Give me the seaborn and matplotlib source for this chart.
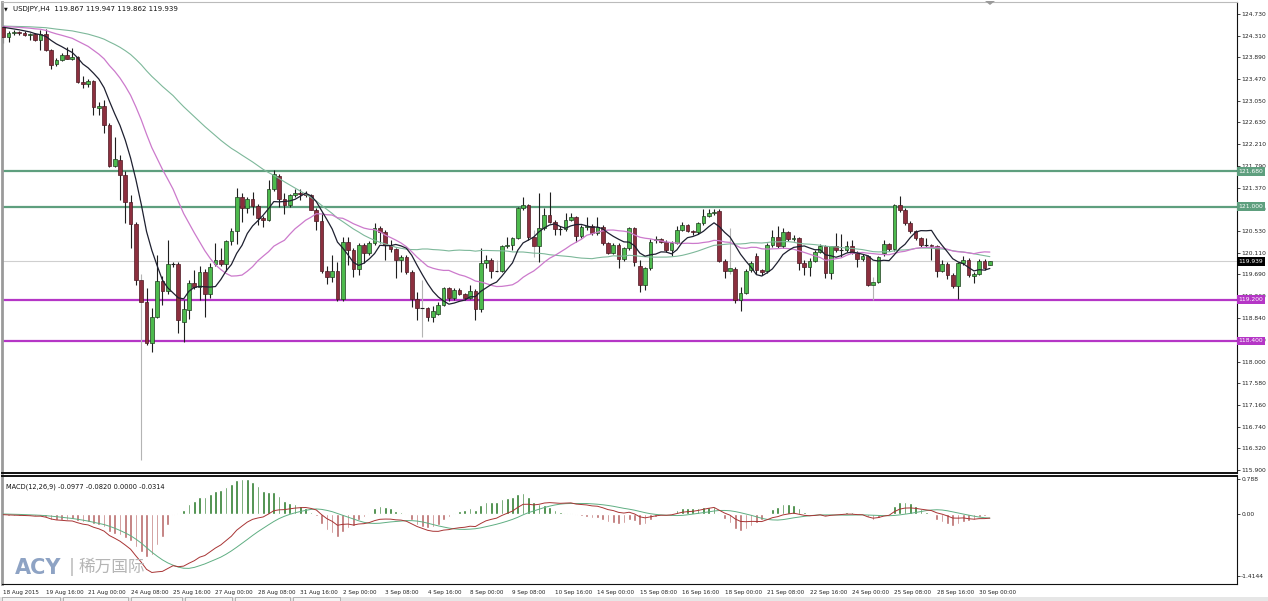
import numpy as np
import pandas as pd
import seaborn as sns
import matplotlib.pyplot as plt
import matplotlib.transforms as mtransforms
from matplotlib.patches import Rectangle, Polygon

# USDJPY H4 candles, 18 Aug 2015 08:00 -> 30 Sep 2015
opens = [124.48, 124.28, 124.37, 124.38, 124.36, 124.33, 124.34, 124.23, 124.34, 124.03,
         123.76, 123.84, 123.94, 123.86, 123.89, 123.42, 123.37, 123.43, 122.90, 122.94,
         122.58, 121.79, 121.90, 121.61, 121.08, 120.66, 119.58, 119.15, 118.35, 118.87,
         119.56, 119.37, 119.88, 119.88, 118.76, 119.00, 119.53, 119.44, 119.73, 119.30,
         119.89, 119.96, 119.88, 120.34, 120.53, 121.18, 120.97, 121.14, 121.01, 120.77,
         120.74, 121.34, 121.59, 121.14, 121.03, 121.22, 121.26, 121.24, 121.22, 120.94,
         120.73, 119.75, 119.64, 119.76, 119.22, 120.32, 120.16, 119.79, 120.26, 120.10,
         120.30, 120.58, 120.50, 120.26, 120.17, 119.97, 120.03, 119.74, 119.22, 119.04,
         119.04, 118.87, 118.93, 119.10, 119.42, 119.23, 119.39, 119.31, 119.23, 119.37,
         119.01, 119.90, 119.97, 119.76, 119.76, 120.24, 120.26, 120.39, 120.97, 121.03,
         120.41, 120.23, 120.58, 120.84, 120.71, 120.56, 120.56, 120.75, 120.79, 120.43,
         120.60, 120.62, 120.48, 120.61, 120.29, 120.11, 120.26, 119.98, 120.19, 120.58,
         119.85, 119.48, 119.81, 120.35, 120.37, 120.32, 120.16, 120.30, 120.55, 120.64,
         120.52, 120.50, 120.68, 120.82, 120.87, 120.92, 119.95, 119.76, 119.79, 119.19,
         119.32, 119.77, 120.04, 119.77, 119.76, 120.26, 120.41, 120.24, 120.50, 120.37,
         120.39, 119.90, 119.84, 119.95, 120.13, 120.23, 119.71, 120.23, 120.16, 120.16,
         120.23, 120.11, 119.98, 120.04, 119.48, 119.55, 120.10, 120.28, 120.17, 121.03,
         120.94, 120.69, 120.52, 120.39, 120.26, 120.26, 120.23, 119.76, 119.89, 119.68,
         119.46, 119.90, 119.97, 119.66, 119.70, 119.95, 119.867]
highs = [124.52, 124.40, 124.42, 124.41, 124.40, 124.37, 124.36, 124.42, 124.43, 124.05,
         123.87, 123.97, 124.10, 124.08, 123.92, 123.53, 123.47, 123.45, 123.02, 123.06,
         122.62, 122.34, 121.99, 121.68, 121.22, 120.70, 119.70, 119.42, 119.03, 120.06,
         119.65, 120.35, 119.93, 119.92, 119.20, 119.58, 119.78, 119.85, 119.80, 119.90,
         120.30, 120.20, 120.36, 120.59, 121.37, 121.26, 121.19, 121.29, 121.05, 120.81,
         121.52, 121.70, 121.64, 121.26, 121.25, 121.35, 121.35, 121.30, 121.25, 120.97,
         120.88, 119.85, 120.06, 119.93, 120.41, 120.42, 120.20, 120.30, 120.30, 120.33,
         120.68, 120.62, 120.55, 120.35, 120.20, 120.06, 120.06, 119.78, 119.35, 119.58,
         119.05, 119.07, 119.15, 119.45, 119.45, 119.42, 119.42, 119.33, 119.48, 119.40,
         120.19, 120.06, 120.00, 119.97, 120.26, 120.42, 120.42, 121.00, 121.18, 121.05,
         120.55, 121.26, 120.97, 121.29, 120.74, 120.62, 120.88, 120.87, 120.82, 120.64,
         120.79, 120.66, 120.80, 120.64, 120.32, 120.29, 120.29, 120.22, 120.60, 120.60,
         119.96, 119.84, 120.38, 120.43, 120.40, 120.35, 120.33, 120.62, 120.70, 120.67,
         120.55, 120.71, 120.95, 120.95, 120.95, 120.95, 119.98, 120.59, 119.83, 119.45,
         119.80, 119.95, 120.10, 119.80, 120.30, 120.55, 120.62, 120.58, 120.53, 120.45,
         120.42, 119.97, 120.00, 120.16, 120.28, 120.26, 120.24, 120.48, 120.47, 120.33,
         120.35, 120.14, 120.08, 120.07, 119.64, 120.05, 120.36, 120.30, 121.05, 121.21,
         120.97, 120.72, 120.55, 120.42, 120.40, 120.28, 120.26, 119.96, 119.92, 119.71,
         119.93, 120.05, 120.00, 119.74, 119.98, 119.99, 119.947]
lows = [124.17, 124.18, 124.33, 124.32, 124.30, 124.22, 124.20, 124.03, 124.01, 123.66,
        123.73, 123.82, 123.85, 123.84, 123.39, 123.30, 123.31, 122.77, 122.77, 122.42,
        121.76, 121.77, 121.13, 120.68, 120.19, 119.48, 116.10, 118.32, 118.19, 118.84,
        119.10, 119.30, 119.83, 118.55, 118.38, 118.82, 119.40, 119.19, 118.87, 119.24,
        119.85, 119.85, 119.76, 120.26, 120.28, 120.70, 120.87, 120.84, 120.64, 120.61,
        120.72, 121.30, 121.00, 120.86, 121.00, 121.19, 121.13, 121.18, 120.93, 120.55,
        119.72, 119.50, 119.55, 119.17, 119.18, 119.87, 119.64, 119.68, 119.90, 120.06,
        120.26, 120.29, 119.97, 120.13, 119.61, 119.74, 119.70, 119.06, 118.80, 118.48,
        118.78, 118.77, 118.90, 119.08, 119.17, 119.20, 119.28, 119.20, 119.21, 118.80,
        118.95, 119.81, 119.61, 119.74, 119.74, 120.20, 120.16, 120.37, 120.94, 120.35,
        120.03, 119.93, 120.55, 120.68, 120.45, 120.45, 120.52, 120.72, 120.32, 120.40,
        120.55, 120.45, 120.45, 120.26, 120.08, 120.08, 119.82, 119.95, 120.16, 119.85,
        119.35, 119.39, 119.78, 120.30, 120.29, 120.13, 120.05, 120.28, 120.52, 120.50,
        120.46, 120.47, 120.65, 120.79, 120.84, 119.92, 119.61, 119.70, 119.14, 118.98,
        119.30, 119.74, 119.70, 119.68, 119.72, 120.22, 120.20, 120.20, 120.33, 120.33,
        119.78, 119.67, 119.66, 119.92, 120.10, 119.61, 119.60, 120.13, 120.02, 120.13,
        120.08, 119.83, 119.95, 119.46, 119.19, 119.52, 120.05, 120.14, 120.14, 120.90,
        120.65, 120.48, 120.35, 120.22, 120.22, 119.97, 119.64, 119.73, 119.60, 119.42,
        119.21, 119.87, 119.63, 119.52, 119.67, 119.78, 119.862]
closes = [124.28, 124.37, 124.38, 124.36, 124.33, 124.34, 124.23, 124.34, 124.03, 123.74,
          123.84, 123.94, 123.86, 123.89, 123.42, 123.37, 123.43, 122.92, 122.94, 122.58,
          121.79, 121.93, 121.61, 121.08, 120.66, 119.58, 119.15, 118.35, 118.87, 119.56,
          119.37, 119.88, 119.88, 118.80, 119.01, 119.53, 119.45, 119.73, 119.30, 119.84,
          119.96, 119.88, 120.34, 120.53, 121.18, 120.97, 121.14, 121.01, 120.77, 120.74,
          121.34, 121.63, 121.14, 121.03, 121.22, 121.26, 121.24, 121.22, 120.94, 120.73,
          119.75, 119.64, 119.76, 119.22, 120.32, 120.16, 119.79, 120.26, 120.10, 120.30,
          120.58, 120.50, 120.26, 120.17, 119.97, 120.03, 119.74, 119.22, 119.04, 119.04,
          118.87, 118.97, 119.10, 119.42, 119.23, 119.39, 119.31, 119.23, 119.37, 119.01,
          119.90, 119.97, 119.76, 119.76, 120.24, 120.26, 120.39, 120.97, 121.03, 120.41,
          120.23, 120.58, 120.84, 120.71, 120.56, 120.56, 120.75, 120.79, 120.43, 120.60,
          120.62, 120.48, 120.61, 120.29, 120.11, 120.26, 119.98, 120.19, 120.58, 119.92,
          119.48, 119.81, 120.32, 120.37, 120.32, 120.16, 120.30, 120.55, 120.64, 120.53,
          120.50, 120.68, 120.82, 120.87, 120.90, 119.95, 119.76, 119.81, 119.19, 119.32,
          119.76, 119.90, 119.77, 119.74, 120.26, 120.41, 120.24, 120.50, 120.37, 120.39,
          119.90, 119.84, 119.95, 120.13, 120.24, 119.71, 120.23, 120.16, 120.16, 120.23,
          120.11, 119.98, 120.04, 119.48, 119.55, 120.02, 120.28, 120.17, 121.03, 120.94,
          120.69, 120.52, 120.39, 120.26, 120.26, 120.23, 119.76, 119.89, 119.68, 119.46,
          119.90, 119.97, 119.68, 119.70, 119.95, 119.82, 119.939]

prior_level = 124.50   # price level before the window, warms up the averages
time_labels = ['18 Aug 2015', '19 Aug 16:00', '21 Aug 00:00', '24 Aug 08:00', '25 Aug 16:00',
               '27 Aug 00:00', '28 Aug 08:00', '31 Aug 16:00', '2 Sep 00:00', '3 Sep 08:00',
               '4 Sep 16:00', '8 Sep 00:00', '9 Sep 08:00', '10 Sep 16:00', '14 Sep 00:00',
               '15 Sep 08:00', '16 Sep 16:00', '18 Sep 00:00', '21 Sep 08:00', '22 Sep 16:00',
               '24 Sep 00:00', '25 Sep 08:00', '28 Sep 16:00', '30 Sep 00:00']
price_ticks = [124.730, 124.310, 123.890, 123.470, 123.050, 122.630, 122.210, 121.790,
               121.370, 120.950, 120.530, 120.110, 119.690, 119.270, 118.840, 118.420,
               118.000, 117.580, 117.160, 116.740, 116.320, 115.900]
price_tick_labels = ['124.730', '124.310', '123.890', '123.470', '123.050', '122.630',
                     '122.210', '121.790', '121.370', '120.950', '120.530', '120.110',
                     '119.690', '119.260', '118.840', '118.420', '118.000', '117.580',
                     '117.160', '116.740', '116.320', '115.900']
resist_levels = [121.680, 121.000]
support_levels = [119.200, 118.400]
last_price = 119.939
macd_ticks = [0.788, 0.0, -1.4144]
macd_tick_labels = ['0.788', '0.00', '-1.4144']
header = 'USDJPY,H4  119.867 119.947 119.862 119.939'
macd_header = 'MACD(12,26,9) -0.0977 -0.0820 0.0000 -0.0314'

sns.set_style('white')
plt.rcParams['font.family'] = ['DejaVu Sans']

df = pd.DataFrame({'open': opens, 'high': highs, 'low': lows, 'close': closes})
df['bar'] = np.arange(len(df))

# moving averages and MACD, with a warm-up of flat history before the window
warm = 80
full = pd.Series([prior_level] * warm + closes)
df['ma8'] = full.rolling(8).mean().iloc[warm:].values
df['ma21'] = full.rolling(21).mean().iloc[warm:].values
df['ma50'] = full.rolling(52).mean().iloc[warm:].values
ema12 = full.ewm(span=12, adjust=False).mean()
ema26 = full.ewm(span=26, adjust=False).mean()
macd_full = ema12 - ema26
signal_full = macd_full.rolling(9).mean()
df['macd'] = macd_full.iloc[warm:].values
df['signal'] = signal_full.iloc[warm:].values
df['hist'] = 2 * (df['macd'] - df['signal'])

W, H = 1268, 601
fig = plt.figure(figsize=(W / 100, H / 100), dpi=100)
fig.patch.set_facecolor('white')


def px(l, t, r, b):
    return [l / W, 1 - b / H, (r - l) / W, (b - t) / H]


ax = fig.add_axes(px(2, 2, 1237, 473))
axm = fig.add_axes(px(2, 476, 1237, 584))
xlim = (-0.25, 232.6)

# candles
grey_wicks = [26, 79, 93, 100, 137, 164]
wick_col = np.where(df['bar'].isin(grey_wicks), '#b4b4b4', '#1e1e1e')
ax.vlines(df['bar'], df['low'], df['high'], colors=wick_col, lw=0.8, zorder=2)
up = df['close'] > df['open']
dn = df['close'] < df['open']
eq = ~(up | dn)
ax.bar(df['bar'][up], (df['close'] - df['open'])[up], bottom=df['open'][up], width=0.7,
       color='#4dba4d', edgecolor='#1f3d1f', lw=0.5, zorder=3)
ax.bar(df['bar'][dn], (df['open'] - df['close'])[dn], bottom=df['close'][dn], width=0.7,
       color='#8c2f3e', edgecolor='#4d1822', lw=0.5, zorder=3)
ax.hlines(df['close'][eq], df['bar'][eq] - 0.35, df['bar'][eq] + 0.35, color='#1e1e1e', lw=0.8, zorder=3)

sns.lineplot(data=df, x='bar', y='ma50', ax=ax, color='#7db89a', lw=0.8, zorder=4)
sns.lineplot(data=df, x='bar', y='ma21', ax=ax, color='#cc7acc', lw=0.9, zorder=4)
sns.lineplot(data=df, x='bar', y='ma8', ax=ax, color='#1e2030', lw=0.9, zorder=5)

for lv in resist_levels:
    ax.axhline(lv, color='#5e9f7e', lw=1.6, zorder=1)
for lv in support_levels:
    ax.axhline(lv, color='#b536c6', lw=1.6, zorder=1)
ax.axhline(last_price, color='#cfcfcf', lw=0.8, zorder=0)

ax.set_xlim(*xlim)
ax.set_ylim(115.842, 124.962)
ax.set_xticks([])
ax.set_xlabel('')
ax.set_ylabel('')
ax.yaxis.tick_right()
ax.set_yticks(price_ticks)
ax.set_yticklabels(price_tick_labels)
ax.tick_params(axis='y', labelsize=4.3, length=2, width=0.6, pad=1, colors='#222')

ytrans = mtransforms.blended_transform_factory(ax.transAxes, ax.transData)
boxes = [(resist_levels[0], '121.680', '#5e9f7e'), (resist_levels[1], '121.000', '#5e9f7e'),
         (last_price, '119.939', '#000000'), (support_levels[0], '119.200', '#b536c6'),
         (support_levels[1], '118.400', '#b536c6')]
for val, txt, col in boxes:
    ax.text(1.0012, val, txt, transform=ytrans, fontsize=4.3, color='white', va='center', ha='left',
            bbox=dict(boxstyle='square,pad=0.3', fc=col, ec='none'), zorder=10, clip_on=False)

for s in ['top', 'right', 'bottom']:
    ax.spines[s].set_color('#111')
    ax.spines[s].set_linewidth(0.8)
ax.spines['bottom'].set_linewidth(1.4)
ax.spines['left'].set_color('#9a9a9a')
ax.spines['left'].set_linewidth(2)
ax.spines['top'].set_color('#bbbbbb')

fig.text(4 / W, 1 - 8.5 / H, '\u25bc', fontsize=3.5, color='#111', va='center')
fig.text(13 / W, 1 - 8.5 / H, header, fontsize=5, color='#111', va='center')
fig.patches.append(Polygon([[985 / W, 1 - 1 / H], [995 / W, 1 - 1 / H], [990 / W, 1 - 5 / H]],
                           closed=True, fc='#9a9a9a', ec='none', transform=fig.transFigure))

# MACD panel
hist_col = np.where(df['hist'] >= 0, '#2f7d2f', '#b96b6b')
axm.bar(df['bar'], df['hist'], width=0.5, color=hist_col, zorder=2)
sns.lineplot(data=df, x='bar', y='signal', ax=axm, color='#5fae82', lw=0.7, zorder=3)
sns.lineplot(data=df, x='bar', y='macd', ax=axm, color='#a83434', lw=0.7, zorder=3)
axm.set_xlim(*xlim)
axm.set_ylim(-1.59, 0.86)
axm.set_xlabel('')
axm.set_ylabel('')
axm.yaxis.tick_right()
axm.set_yticks(macd_ticks)
axm.set_yticklabels(macd_tick_labels)
axm.tick_params(axis='y', labelsize=4.3, length=2, width=0.6, pad=1, colors='#222')
axm.set_xticks(np.arange(0, len(df), 8)[:len(time_labels)])
axm.set_xticklabels(time_labels, ha='left')
axm.tick_params(axis='x', labelsize=4.1, length=3, width=0.6, pad=1, colors='#222', direction='out')
for s in ['top', 'right', 'bottom']:
    axm.spines[s].set_color('#111')
    axm.spines[s].set_linewidth(0.8)
axm.spines['top'].set_linewidth(1.4)
axm.spines['left'].set_color('#9a9a9a')
axm.spines['left'].set_linewidth(2)
axm.text(0.003, 0.93, macd_header, transform=axm.transAxes, fontsize=4.8, color='#111', va='top')

# watermark
fig.text(15 / W, 1 - 568 / H, 'ACY', fontsize=15, fontweight='bold', color='#8ea3c4', va='center')
fig.text(69 / W, 1 - 567 / H, '|', fontsize=13, color='#b9b9b9', va='center')
fig.text(79 / W, 1 - 567 / H, '稀万国际', fontsize=12, color='#b5b5b5', va='center',
         family=['Noto Sans CJK SC', 'DejaVu Sans'])

# bottom tab strip
fig.patches.append(Rectangle((0, 0), 1, 4 / H, transform=fig.transFigure, fc='#e6e6e6', ec='none'))
for x0, x1 in [(2, 60), (63, 128), (131, 182), (185, 232), (235, 290), (293, 340)]:
    fig.patches.append(Rectangle((x0 / W, 0), (x1 - x0) / W, 4 / H, transform=fig.transFigure,
                                 fc='#f4f4f4', ec='#9a9a9a', lw=0.5))

fig.savefig('out.png', dpi=100)
